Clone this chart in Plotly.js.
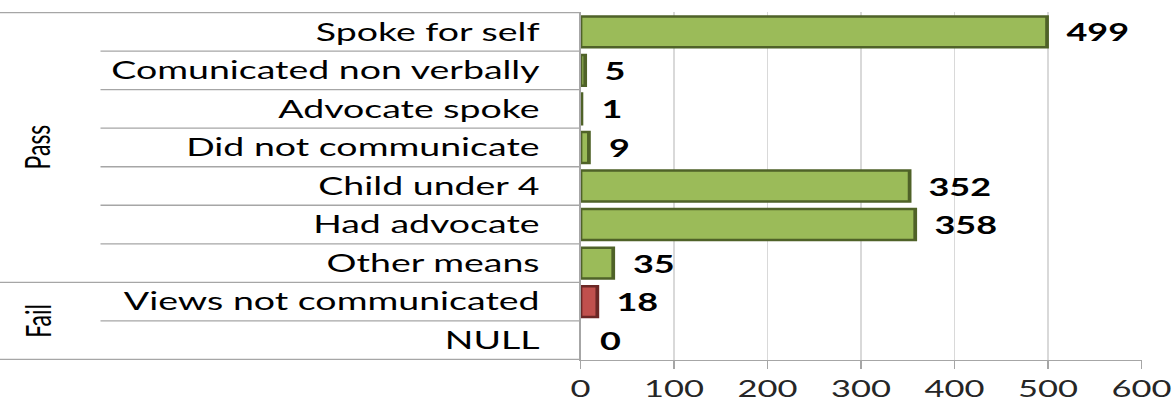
<!DOCTYPE html>
<html>
<head>
<meta charset="utf-8">
<script src="https://cdn.plot.ly/plotly-3.0.1.min.js"></script>
<style>
html,body{margin:0;padding:0;background:#fff;overflow:hidden;}
#wrap{width:784px;height:407px;transform:scaleX(1.5);transform-origin:0 0;}
</style>
</head>
<body>
<div id="wrap"><div id="chart" style="width:784px;height:407px;"></div></div>
<script>
// ---- data ----
const categories = ["Spoke for self","Comunicated non verbally","Advocate spoke","Did not communicate","Child under 4","Had advocate","Other means","Views not communicated","NULL"];
const groupOf = ["Pass","Pass","Pass","Pass","Pass","Pass","Pass","Fail","Fail"];
const values = [499,5,1,9,352,358,35,18,0];
const groupNames = ["Pass","Fail"];
const xTickVals = [0,100,200,300,400,500,600];
const xTickText = ["0","100","200","300","400","500","600"];

// ---- style ----
const W = 784, H = 407;
const M = {l:387, r:23, t:12, b:47};
const plotW = W - M.l - M.r;
const fillCol = {Pass:"#9BBB59", Fail:"#C0504D"};
const lineCol = {Pass:"#4F6228", Fail:"#6B2725"};
const FONT = "Lato, 'Open Sans', sans-serif";
const sepColor = "#A6A6A6";
const px2paper = p => (p - M.l) / plotW;

const trace = {
  type:"bar", orientation:"h",
  y: categories, x: values,
  marker:{
    color: groupOf.map(g => fillCol[g]),
    line:{color: groupOf.map(g => lineCol[g]), width: values.map(v => v > 0 ? 2.5 : 0)}
  },
  hoverinfo:"none"
};

const shapes = [];
// separators between categories
for (let i = 0; i <= categories.length; i++) {
  const yv = i - 0.5;
  let isGroup = (i === 0 || i === categories.length || groupOf[i] !== groupOf[i-1]);
  shapes.push({type:"line", xref:"paper", yref:"y",
    x0: px2paper(isGroup ? 0 : 67), x1: 0, y0: yv, y1: yv,
    line:{color: sepColor, width: 1.3}, layer:"above"});
}

const annotations = [];
// group labels
groupNames.forEach(g => {
  const idx = groupOf.map((v,i)=>v===g?i:-1).filter(i=>i>=0);
  const mid = (idx[0] + idx[idx.length-1]) / 2;
  annotations.push({xref:"paper", yref:"y", x: px2paper(25), y: mid,
    text: g, showarrow:false, textangle:-90,
    font:{family:FONT, size:23, color:"#000"}, xanchor:"center", yanchor:"middle"});
});
// value labels
values.forEach((v,i) => {
  annotations.push({xref:"x", yref:"y", x: v, y: categories[i], text: String(v),
    showarrow:false, xanchor:"left", yanchor:"middle", xshift: 11,
    font:{family:FONT, size:24, color:"#000", weight:"bold"}});
});

const layout = {
  width: W, height: H,
  margin: M,
  paper_bgcolor:"#fff", plot_bgcolor:"#fff",
  showlegend:false,
  bargap:0.2,
  font:{family:FONT, color:"#000"},
  xaxis:{
    range:[0,600], tickvals:xTickVals, ticktext:xTickText,
    showgrid:true, gridcolor:"#D9D9D9", gridwidth:1,
    showline:true, linecolor:sepColor, linewidth:1.3,
    ticks:"outside", ticklen:8, tickcolor:sepColor, tickwidth:1.3,
    tickfont:{family:FONT, size:23, color:"#262626"},
    zeroline:false, fixedrange:true
  },
  yaxis:{
    type:"category", categoryorder:"array", categoryarray:categories,
    autorange:"reversed",
    showline:true, linecolor:sepColor, linewidth:1.3,
    ticks:"", showgrid:false, zeroline:false,
    ticklabelstandoff: 21,
    tickfont:{family:FONT, size:25, color:"#000"},
    fixedrange:true
  },
  shapes: shapes,
  annotations: annotations
};

Plotly.newPlot("chart", [trace], layout, {displayModeBar:false, staticPlot:true});
</script>
</body>
</html>
